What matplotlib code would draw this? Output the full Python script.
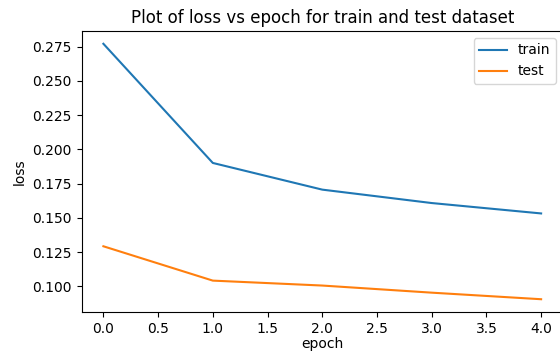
import matplotlib
matplotlib.use('Agg')
import matplotlib.pyplot as plt

epochs = [0, 1, 2, 3, 4]
train_loss = [0.2772, 0.1901, 0.1706, 0.1608, 0.1532]
test_loss = [0.1292, 0.1041, 0.1005, 0.0953, 0.0905]


def main():
    fig = plt.figure(figsize=(5.6, 3.52), dpi=100)
    # the original screenshot cuts the right edge of the axes off
    ax = fig.add_axes([81.5 / 560, 1 - 312 / 352, 481.5 / 560, 281 / 352])

    ax.plot(epochs, train_loss, label='train')
    ax.plot(epochs, test_loss, label='test')

    ax.set_title('Plot of loss vs epoch for train and test dataset')
    ax.set_xlabel('epoch', labelpad=1)
    ax.set_ylabel('loss')
    ax.legend(loc='upper right')

    fig.savefig('out.png', dpi=100)


if __name__ == '__main__':
    main()
